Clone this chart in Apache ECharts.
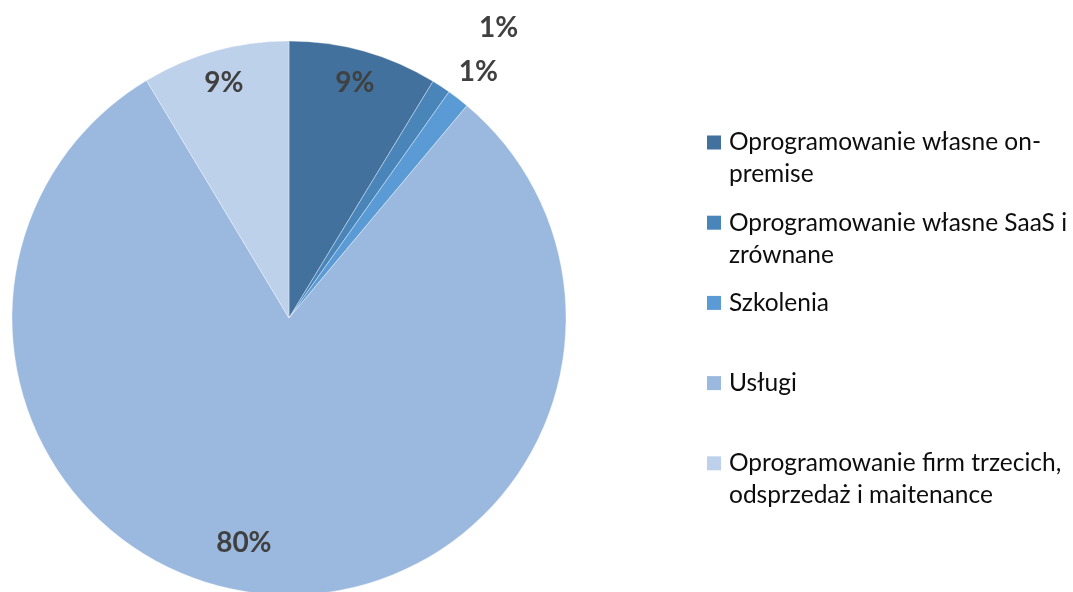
<!DOCTYPE html>
<html>
<head>
<meta charset="utf-8">
<script src="https://cdn.jsdelivr.net/npm/echarts@6/dist/echarts.min.js"></script>
<style>
html, body { margin: 0; padding: 0; background: #fff; }
#chart { width: 1073px; height: 592px; }
</style>
</head>
<body>
<div id="chart"></div>
<script>
// kategorie i udzialy (%)
const categories = [
    'Oprogramowanie własne on-premise',
    'Oprogramowanie własne SaaS i zrównane',
    'Szkolenia',
    'Usługi',
    'Oprogramowanie firm trzecich, odsprzedaż i maitenance'
];
const values = [8.7, 1.1, 1.3, 80.3, 8.6];
const colors = ['#41719c', '#4a85ba', '#5b9bd5', '#9bb9df', '#bdd1ea'];
// legenda lamana jak w oryginale
const legendLines = [
    ['Oprogramowanie własne on-', 'premise'],
    ['Oprogramowanie własne SaaS i', 'zrównane'],
    ['Szkolenia', ''],
    ['Usługi', ''],
    ['Oprogramowanie firm trzecich,', 'odsprzedaż i maitenance']
];

const chart = echarts.init(document.getElementById('chart'));
const pieCenter = [289, 318];
const pieR = 277;

const labelStyle = {
    fontFamily: 'Lato',
    fontWeight: 'bold',
    fontSize: 28,
    color: '#404040'
};

// niewidoczny pierscien tylko do polozenia etykiet
function labelRing(radius, shown, offsets) {
    return {
        type: 'pie',
        radius: radius,
        center: pieCenter,
        startAngle: 90,
        clockwise: true,
        silent: true,
        avoidLabelOverlap: false,
        emphasis: { disabled: true },
        itemStyle: { color: 'transparent', borderWidth: 0 },
        labelLine: { show: false },
        label: Object.assign({
            show: true,
            position: 'inside',
            formatter: p => Math.round(p.percent) + '%'
        }, labelStyle),
        data: categories.map((name, i) => ({
            name: name,
            value: values[i],
            label: { show: shown.includes(i), offset: offsets[i] || [0, 0] }
        }))
    };
}

const rich = {
    g: { width: 8, lineHeight: 32 },
    s: { width: 22, lineHeight: 32 },
    t: { fontFamily: 'Lato', fontSize: 24.5, color: '#0d0d0d', lineHeight: 32 }
};
colors.forEach((c, i) => {
    rich['m' + i] = { width: 14, height: 14, backgroundColor: c, lineHeight: 32 };
});

chart.setOption({
    animation: false,
    legend: {
        orient: 'vertical',
        left: 701,
        top: 130,
        padding: 0,
        itemWidth: 0,
        itemHeight: 0,
        itemGap: 23.2,
        selectedMode: false,
        data: categories,
        formatter: name => {
            const i = categories.indexOf(name);
            const l = legendLines[i];
            return '{m' + i + '|}{g|}{t|' + l[0] + '}\n{s|}{t|' + l[1] + '}';
        },
        textStyle: { rich: rich }
    },
    series: [
        {
            type: 'pie',
            radius: pieR,
            center: pieCenter,
            startAngle: 90,
            clockwise: true,
            silent: true,
            emphasis: { disabled: true },
            label: { show: false },
            labelLine: { show: false },
            itemStyle: {
                borderColor: 'rgba(255,255,255,0.6)',
                borderWidth: 0.6
            },
            data: categories.map((name, i) => ({
                name: name,
                value: values[i],
                itemStyle: { color: colors[i] }
            }))
        },
        labelRing([205, pieR], [0, 3, 4], { 3: [-26, -18] }),
        labelRing([pieR, 433], [1], { 1: [13, 9] }),
        labelRing([pieR, 337], [2], {})
    ]
});
</script>
</body>
</html>
